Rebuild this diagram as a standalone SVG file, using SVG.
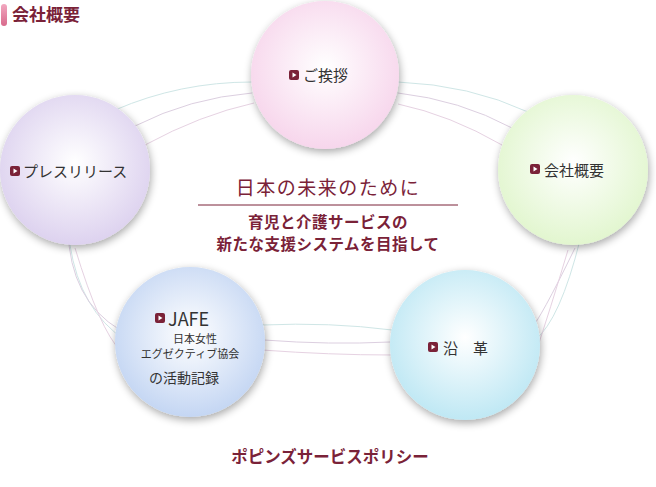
<svg xmlns="http://www.w3.org/2000/svg" width="656" height="487" viewBox="0 0 656 487">
<style>
.t{font-family:"Noto Sans CJK JP","Liberation Sans",sans-serif;fill:#333}
.h{font-family:"Noto Sans CJK JP",sans-serif;fill:#7a2238}
.c{fill:none;stroke-width:1}
.a{stroke:#cfe6e6}.b{stroke:#dccfe0}.d{stroke:#e6d2e2}
</style>
<defs>
<filter id="sh" x="-20%" y="-20%" width="140%" height="140%"><feGaussianBlur in="SourceAlpha" stdDeviation="4"/><feOffset dx="1" dy="3"/><feComponentTransfer><feFuncA type="linear" slope="0.35"/></feComponentTransfer><feMerge><feMergeNode/><feMergeNode in="SourceGraphic"/></feMerge></filter>
<radialGradient id="g1" cx="50%" cy="45%" r="55%"><stop offset="0" stop-color="#fff"/><stop offset="1" stop-color="#f7d6ec"/></radialGradient>
<radialGradient id="g2" cx="50%" cy="45%" r="55%"><stop offset="0" stop-color="#fff"/><stop offset="1" stop-color="#ddd2ef"/></radialGradient>
<radialGradient id="g3" cx="50%" cy="45%" r="55%"><stop offset="0" stop-color="#fff"/><stop offset="1" stop-color="#e2f6cf"/></radialGradient>
<radialGradient id="g4" cx="50%" cy="45%" r="55%"><stop offset="0" stop-color="#fff"/><stop offset="1" stop-color="#c4d6f3"/></radialGradient>
<radialGradient id="g5" cx="50%" cy="45%" r="55%"><stop offset="0" stop-color="#fff"/><stop offset="1" stop-color="#bfe8f4"/></radialGradient>
<linearGradient id="tab" x1="0" y1="0" x2="0" y2="1"><stop offset="0" stop-color="#f2a8c0"/><stop offset="1" stop-color="#d86a8c"/></linearGradient>
<g id="ic"><rect width="10" height="10" rx="2" fill="#7a2238"/><path d="M3.5 2.5 L7.5 5 L3.5 7.5Z" fill="#fff"/></g>
</defs>
<rect width="656" height="487" fill="#fff"/>
<rect x="1" y="4" width="6" height="22" rx="3" fill="url(#tab)"/>
<text x="12" y="21" class="h" font-size="17" font-weight="bold">会社概要</text>
<g id="connectors">
<path class="c a" d="M115 110 Q180 82 252 82"/><path class="c b" d="M135 126 Q190 98 252 93"/><path class="c d" d="M145 145 Q200 115 254 103"/>
<path class="c a" d="M398 82 Q470 85 528 112"/><path class="c b" d="M398 93 Q460 100 512 128"/><path class="c d" d="M398 104 Q450 115 502 145"/>
<path class="c a" d="M70 245 Q80 310 125 340"/><path class="c b" d="M68 230 Q70 300 120 330"/><path class="c d" d="M75 248 Q100 330 120 350"/>
<path class="c a" d="M580 240 Q560 320 535 340"/><path class="c b" d="M575 248 Q540 320 530 330"/><path class="c d" d="M568 250 Q550 310 535 355"/>
<path class="c a" d="M262 325 Q330 322 392 330"/><path class="c b" d="M264 340 Q330 345 390 342"/><path class="c d" d="M262 350 Q330 355 392 355"/>
</g>
<g id="n1" filter="url(#sh)"><circle cx="325" cy="75" r="74" fill="url(#g1)"/></g>
<g id="t1"><use href="#ic" x="289" y="70"/><text x="303" y="81" class="t" font-size="15">ご挨拶</text></g>
<g id="n2" filter="url(#sh)"><circle cx="75" cy="170" r="75" fill="url(#g2)"/></g>
<g id="t2"><use href="#ic" x="10" y="166"/><text x="23" y="177" class="t" font-size="15">プレスリリース</text></g>
<g id="n3" filter="url(#sh)"><circle cx="573" cy="170" r="75" fill="url(#g3)"/></g>
<g id="t3"><use href="#ic" x="530" y="164"/><text x="544" y="176" class="t" font-size="15">会社概要</text></g>
<g id="n4" filter="url(#sh)"><circle cx="190" cy="342" r="75" fill="url(#g4)"/></g>
<g id="t4"><use href="#ic" x="155" y="313"/><text x="168" y="326" class="t" font-size="18">JAFE</text>
<text x="195" y="343" class="t" font-size="11" text-anchor="middle">日本女性</text>
<text x="190" y="358" class="t" font-size="11" text-anchor="middle">エグゼクティブ協会</text>
<text x="184" y="383" class="t" font-size="14" text-anchor="middle">の活動記録</text></g>
<g id="n5" filter="url(#sh)"><circle cx="465" cy="345" r="75" fill="url(#g5)"/></g>
<g id="t5"><use href="#ic" x="428" y="342"/><text x="443" y="354" class="t" font-size="15">沿　革</text></g>
<g id="center">
<text x="328" y="195" class="h" font-size="19" text-anchor="middle" letter-spacing="1.5">日本の未来のために</text>
<line x1="198" y1="205" x2="458" y2="205" stroke="#7a2238" stroke-width="1"/>
<text x="328" y="228" class="h" font-size="15.5" text-anchor="middle" font-weight="bold" letter-spacing="0.5">育児と介護サービスの</text>
<text x="328" y="250" class="h" font-size="15.5" text-anchor="middle" font-weight="bold" letter-spacing="0.5">新たな支援システムを目指して</text>
<text x="330" y="463" class="h" font-size="16.5" text-anchor="middle" font-weight="bold">ポピンズサービスポリシー</text>
</g>
</svg>
